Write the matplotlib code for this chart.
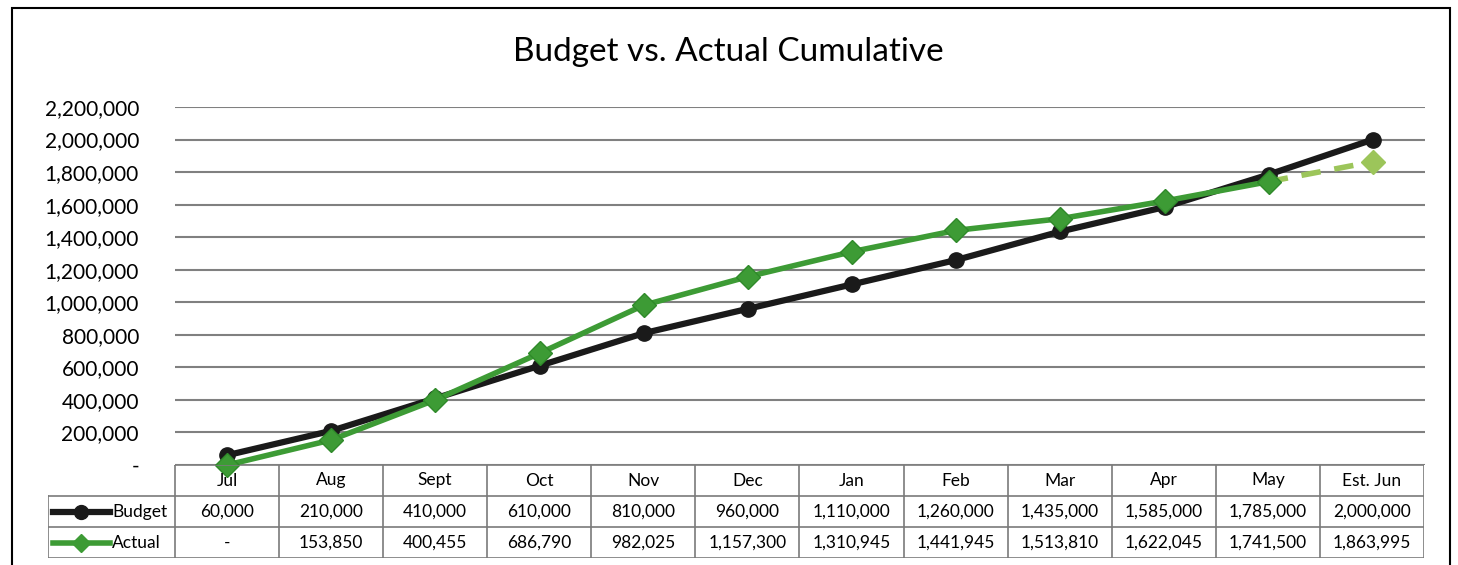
import matplotlib.pyplot as plt
from matplotlib.patches import Rectangle
from matplotlib.ticker import FuncFormatter

plt.rcParams["font.family"] = ["Lato", "DejaVu Sans"]

months = ["Jul", "Aug", "Sept", "Oct", "Nov", "Dec", "Jan", "Feb", "Mar", "Apr", "May", "Est. Jun"]
budget = [60000, 210000, 410000, 610000, 810000, 960000, 1110000, 1260000,
          1435000, 1585000, 1785000, 2000000]
actual = [0, 153850, 400455, 686790, 982025, 1157300, 1310945, 1441945,
          1513810, 1622045, 1741500, 1863995]
actual_labels = ["-", "153,850", "400,455", "686,790", "982,025", "1,157,300", "1,310,945",
                 "1,441,945", "1,513,810", "1,622,045", "1,741,500", "1,863,995"]
n_actual = 11  # Jul..May are actuals, Est. Jun is the estimate

W, H = 1458, 565
black = "#1a1a1a"
green = "#3d9b35"
light_green = "#9cc55a"
grid_c = "#808080"

fig = plt.figure(figsize=(W / 100, H / 100), dpi=100)

# outer chart border
fig.patches.append(Rectangle((12 / W, -0.05), (1450 - 12) / W, 1.05 - 8 / H,
                             transform=fig.transFigure, fill=False,
                             edgecolor="black", linewidth=1.5))

fig.text(728 / W, 1 - 52 / H, "Budget vs. Actual Cumulative", ha="center", va="center",
         fontsize=24)

# main plot area
ax = fig.add_axes([175 / W, (H - 465) / H, 1250 / W, 358 / H])
x = list(range(len(months)))
ax.set_xlim(-0.5, len(months) - 0.5)
ax.set_ylim(0, 2200000)
ax.set_yticks(range(0, 2200001, 200000))
ax.yaxis.set_major_formatter(FuncFormatter(lambda v, p: "-" if v == 0 else f"{int(v):,}"))
ax.tick_params(axis="y", length=0, pad=26, labelsize=15)
ax.tick_params(axis="x", length=0, labelbottom=False)
ax.grid(axis="y", color=grid_c, linewidth=1.5)
for s in ax.spines.values():
    s.set_visible(False)
ax.set_axisbelow(True)

ax.plot(x, budget, color=black, linewidth=4.5, marker="o", markersize=11, zorder=3,
        clip_on=False)
ax.plot(x[n_actual - 1:], actual[n_actual - 1:], color=light_green, linewidth=4,
        linestyle=(0, (3.5, 2.5)), zorder=3, clip_on=False)
ax.plot(x[n_actual:], actual[n_actual:], color=light_green, linestyle="none",
        marker="D", markersize=12, zorder=4, clip_on=False)
ax.plot(x[:n_actual], actual[:n_actual], color=green, linewidth=4, marker="D", markersize=12,
        markeredgecolor="#2f8a2a", zorder=4, clip_on=False)

# data table below
left_px = 48
cat_w = 1250 / 12
tx0 = -0.5 - (175 - left_px) / cat_w
tab = fig.add_axes([left_px / W, (H - 558) / H, (1424 - left_px) / W, 93 / H])
tab.set_xlim(tx0, 11.5)
tab.set_ylim(3, 0)
tab.axis("off")
lc = "#7a7a7a"
for i in range(13):
    tab.plot([i - 0.5, i - 0.5], [0, 3], color=lc, linewidth=1.2)
tab.plot([tx0, tx0], [1, 3], color=lc, linewidth=1.2)
tab.plot([-0.5, 11.5], [0, 0], color=lc, linewidth=1.2)
for r in (1, 2, 3):
    tab.plot([tx0, 11.5], [r, r], color=lc, linewidth=1.2)

fs = 12.5
for i, m in enumerate(months):
    tab.text(i, 0.5, m, ha="center", va="center", fontsize=fs)
    tab.text(i, 1.5, f"{budget[i]:,}", ha="center", va="center", fontsize=fs)
    tab.text(i, 2.5, actual_labels[i], ha="center", va="center", fontsize=fs)

# legend keys in the row header cells
lx0 = -0.5 + (53 - 175) / cat_w
lx1 = -0.5 + (110 - 175) / cat_w
lxm = (lx0 + lx1) / 2
tab.plot([lx0, lx1], [1.5, 1.5], color=black, linewidth=4.5)
tab.plot([lxm], [1.5], color=black, marker="o", markersize=10)
tab.plot([lx0, lx1], [2.5, 2.5], color=green, linewidth=4)
tab.plot([lxm], [2.5], color=green, marker="D", markersize=9)
tab.text(lx1 + 0.02, 1.5, "Budget", ha="left", va="center", fontsize=fs)
tab.text(lx1 + 0.02, 2.5, "Actual", ha="left", va="center", fontsize=fs)

fig.savefig("out.png", dpi=100)
